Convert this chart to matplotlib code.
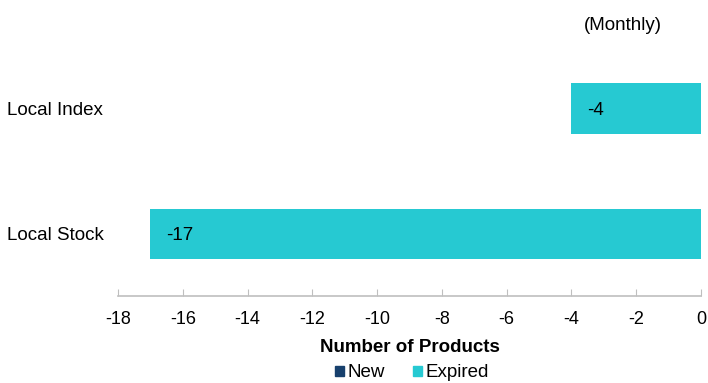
import matplotlib
matplotlib.use("Agg")
import matplotlib.pyplot as plt
from matplotlib.patches import Patch

categories = ["Local Stock", "Local Index"]
new_values = [0, 0]
expired_values = [-17, -4]
xticks = list(range(-18, 1, 2))

plt.rcParams['font.family'] = ['Liberation Sans', 'DejaVu Sans']
FS = 13.5

fig = plt.figure(figsize=(7.08, 3.83), dpi=100)
ax = fig.add_axes([118/708, 1-296/383, (701-118)/708, 250/383])

c_new = "#17406D"
c_exp = "#26C9D2"
ypos = list(range(len(categories)))
ax.barh(ypos, new_values, height=0.4, color=c_new)
bars = ax.barh(ypos, expired_values, height=0.4, color=c_exp)
for y, v in zip(ypos, expired_values):
    ax.annotate(f"{v}", xy=(v, y), xytext=(11, 0), textcoords="offset points",
                ha="left", va="center_baseline", fontsize=FS, color="black")

ax.set_xlim(-18, 0)
ax.set_ylim(-0.5, 1.5)
ax.set_xticks(xticks)
ax.set_xticklabels([str(t) for t in xticks], fontsize=13)
ax.set_yticks(ypos)
ax.set_yticklabels(categories, fontsize=FS, ha="left", va="center_baseline")
ax.tick_params(axis="y", length=0, pad=80)
ax.tick_params(axis="x", direction="in", length=5, color="#BFBFBF", pad=10.5)
for s in ["top", "right", "left"]:
    ax.spines[s].set_visible(False)
ax.spines["bottom"].set_color("#BFBFBF")
ax.spines["bottom"].set_linewidth(1.2)
ax.set_xlabel("Number of Products", fontsize=FS, fontweight="bold", labelpad=8.5)

fig.text(623/708, 1-25/383, "(Monthly)", ha="center", va="center", fontsize=FS)

handles = [Patch(color=c_new, label="New"), Patch(color=c_exp, label="Expired")]
fig.legend(handles=handles, loc="lower center", bbox_to_anchor=(412/708, -0.04),
           ncol=2, frameon=False, fontsize=FS, handlelength=0.45, handleheight=0.45,
           handletextpad=0.2, columnspacing=1.5)

fig.savefig("out.png", dpi=100)
